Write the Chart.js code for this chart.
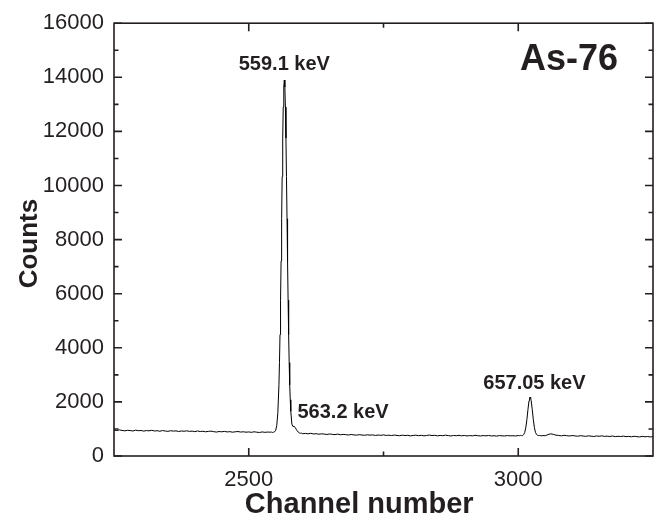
<!DOCTYPE html>
<html><head><meta charset="utf-8">
<script src="https://cdn.jsdelivr.net/npm/chart.js@4"></script>
<style>html,body{margin:0;padding:0;background:#fff}#wrap{width:668px;height:519px}</style>
</head><body><div id="wrap"><canvas id="c" width="668" height="519"></canvas></div>
<script>
// Channel numbers (x) and counts (y)
const channels = [
 2250,2255,2260,2265,2270,2275,2280,2285,2290,2295,2300,2305,2310,2315,2320,2325,2330,2335,2340,2345,
 2350,2355,2360,2365,2370,2375,2380,2385,2390,2395,2400,2405,2410,2415,2420,2425,2430,2435,2440,2445,
 2450,2455,2460,2465,2470,2475,2480,2485,2490,2495,2500,2505,2510,2515,2520,2525,2530,2535,2540,
 2542,2544,2546,2548,2550,2552,2554,2556,2557,2558,2559,2560,2561,2562,2563,2564,2565,2566,
 2567,2568,2569,2570,2571,2572,2573,2574,2575,2576,2577,2578,2580,2582,2584,2586,2588,2590,
 2592,2594,2596,2598,2600,
 2605,2610,2615,2620,2625,2630,2635,2640,2645,2650,2655,2660,2665,2670,2675,2680,2685,2690,2695,2700,
 2705,2710,2715,2720,2725,2730,2735,2740,2745,2750,2755,2760,2765,2770,2775,2780,2785,2790,2795,2800,
 2805,2810,2815,2820,2825,2830,2835,2840,2845,2850,2855,2860,2865,2870,2875,2880,2885,2890,2895,2900,
 2905,2910,2915,2920,2925,2930,2935,2940,2945,2950,2955,2960,2965,2970,2975,2980,2985,2990,2995,3000,
 3002,3004,3006,3008,3010,3012,3014,3016,3018,3020,3021,3022,3023,3024,3026,3028,3030,3032,3034,3036,
 3038,3040,3042,3044,3046,
 3050,3055,3060,3065,3070,3075,3080,3085,3090,3095,3100,3105,3110,3115,3120,3125,3130,3135,3140,3145,
 3150,3155,3160,3165,3170,3175,3180,3185,3190,3195,3200,3205,3210,3215,3220,3225,3230,3235,3240,3245,3250
];
const counts = [
 955,940,965,945,930,950,940,925,955,935,945,920,940,930,950,925,935,915,940,925,
 910,935,920,930,905,925,915,930,910,920,900,925,905,915,895,910,920,900,885,905,
 895,910,890,900,880,895,905,885,895,880,890,875,895,880,870,890,875,885,880,
 885,870,880,895,950,1130,1600,2630,3450,4490,5760,7210,8770,10330,11750,12900,13640,13900,
 13640,12900,11750,10330,8770,7210,5760,4490,3450,2630,2080,1650,1180,1090,1095,1060,990,930,
 880,855,840,845,825,
 835,820,840,815,825,805,820,810,795,815,800,790,810,785,800,790,775,795,780,770,
 790,775,765,785,770,780,760,775,765,780,760,770,755,775,760,750,770,755,765,745,
 760,770,750,765,745,760,775,755,765,745,760,750,770,755,740,760,750,765,745,760,
 740,755,745,765,750,740,755,745,760,740,750,735,755,745,740,755,745,750,740,755,
 750,760,755,750,790,870,1045,1340,1715,2045,2145,2180,2145,2045,1715,1340,1045,870,795,765,
 755,760,750,745,755,
 750,790,820,800,770,760,745,765,750,740,755,745,730,750,740,725,745,735,720,740,
 730,745,725,735,720,740,715,730,720,735,715,725,710,730,715,705,725,710,720,705,715
];
const xTicks = [2500, 3000];
const xMinorTicks = [2750];
const yTicks = [0, 2000, 4000, 6000, 8000, 10000, 12000, 14000, 16000];
const yMinorTicks = [1000, 3000, 5000, 7000, 9000, 11000, 13000, 15000];
const noteTexts = ['559.1 keV', '563.2 keV', '657.05 keV'];
const noteChannels = [2566, 2675, 3030];
const noteCounts = [14460, 1600, 2680];
const isotopeText = 'As-76';
const isotopeChannel = 3094;
const isotopeCount = 14650;
const xTitle = 'Channel number';
const yTitle = 'Counts';

const ink = '#231f20';
const FONT = '"Liberation Sans", Arial, Helvetica, sans-serif';

const decor = {
  id: 'decor',
  afterDraw(chart) {
    const {ctx, chartArea: a, scales: {x, y}} = chart;
    ctx.save();
    ctx.strokeStyle = ink;
    ctx.lineWidth = 1.6;
    ctx.strokeRect(a.left, a.top, a.right - a.left, a.bottom - a.top);
    ctx.beginPath();
    const MAJ = 8, MIN = 4.5;
    const vt = (v, len) => { const p = x.getPixelForValue(v);
      ctx.moveTo(p, a.bottom); ctx.lineTo(p, a.bottom - len);
      ctx.moveTo(p, a.top); ctx.lineTo(p, a.top + len); };
    const ht = (v, len) => { const p = y.getPixelForValue(v);
      ctx.moveTo(a.left, p); ctx.lineTo(a.left + len, p);
      ctx.moveTo(a.right, p); ctx.lineTo(a.right - len, p); };
    xTicks.forEach(v => vt(v, MAJ));
    xMinorTicks.forEach(v => vt(v, MIN));
    yTicks.forEach(v => ht(v, MAJ));
    yMinorTicks.forEach(v => ht(v, MIN));
    ctx.stroke();
    ctx.fillStyle = ink;
    ctx.textAlign = 'center';
    ctx.textBaseline = 'middle';
    ctx.font = 'bold 20px ' + FONT;
    noteTexts.forEach((t, i) => ctx.fillText(t, x.getPixelForValue(noteChannels[i]), y.getPixelForValue(noteCounts[i])));
    ctx.font = 'bold 36px ' + FONT;
    ctx.fillText(isotopeText, x.getPixelForValue(isotopeChannel), y.getPixelForValue(isotopeCount));
    // axis titles
    ctx.font = 'bold 29px ' + FONT;
    ctx.fillText(xTitle, a.left + 0.455 * (a.right - a.left), a.bottom + 49);
    ctx.translate(30, (a.top + a.bottom) / 2 + 4);
    ctx.rotate(-Math.PI / 2);
    ctx.font = 'bold 26px ' + FONT;
    ctx.fillText(yTitle, 0, 0);
    ctx.restore();
  }
};

new Chart(document.getElementById('c'), {
  type: 'line',
  data: {
    datasets: [{
      data: channels.map((c, i) => ({x: c, y: counts[i]})),
      borderColor: '#000',
      borderWidth: 1,
      pointRadius: 0,
      tension: 0,
      fill: false
    }]
  },
  options: {
    responsive: false,
    animation: false,
    events: [],
    layout: {padding: {top: 20, right: 15, left: 0, bottom: 0}},
    plugins: {legend: {display: false}, tooltip: {enabled: false}},
    scales: {
      x: {
        type: 'linear', min: 2250, max: 3250,
        grid: {display: false, drawTicks: false},
        border: {display: false},
        afterBuildTicks: s => { s.ticks = xTicks.map(v => ({value: v})); },
        afterFit: s => { s.height = 63; },
        ticks: {color: ink, font: {family: FONT, size: 22}, padding: 11, maxRotation: 0,
                callback: v => String(v)}
      },
      y: {
        type: 'linear', min: 0, max: 16000,
        grid: {display: false, drawTicks: false},
        border: {display: false},
        afterBuildTicks: s => { s.ticks = yTicks.map(v => ({value: v})); },
        afterFit: s => { s.width = 114; },
        ticks: {color: ink, font: {family: FONT, size: 22}, padding: 10,
                callback: v => String(v)}
      }
    }
  },
  plugins: [decor]
});
</script>
</body></html>
